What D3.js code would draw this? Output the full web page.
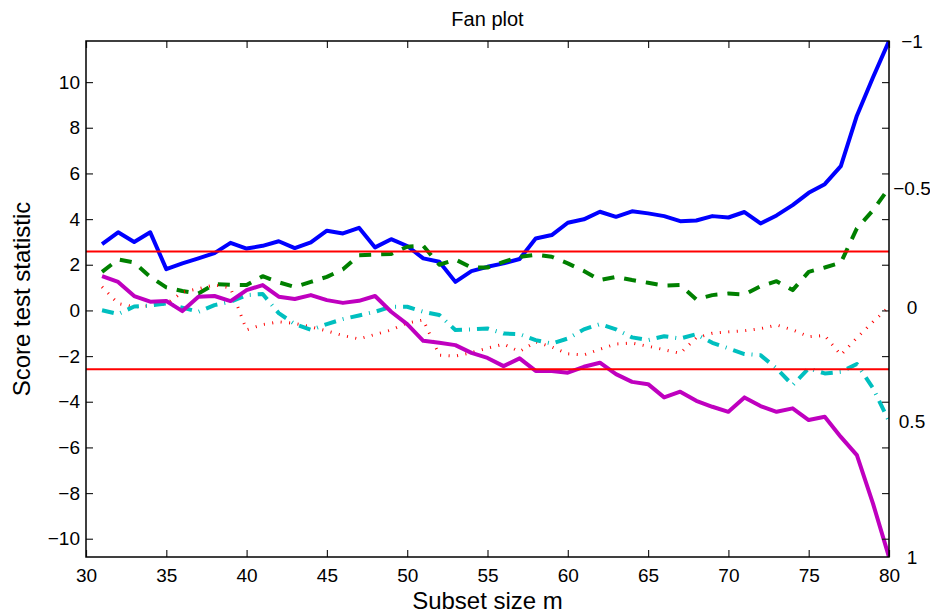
<!DOCTYPE html>
<html>
<head>
<meta charset="utf-8">
<script src="https://cdn.jsdelivr.net/npm/d3@7"></script>
<style>
  html, body { margin: 0; padding: 0; background: #fff; }
  svg { display: block; }
  text { font-family: "Liberation Sans", Arial, Helvetica, sans-serif; fill: #000; }
</style>
</head>
<body>
<svg id="chart" width="930" height="613"></svg>
<script>
// ---- data ----
const subsetSize = [31,32,33,34,35,36,37,38,39,40,41,42,43,44,45,46,47,48,49,50,
                    51,52,53,54,55,56,57,58,59,60,61,62,63,64,65,66,67,68,69,70,
                    71,72,73,74,75,76,77,78,79,80];
const lambdas = ["−1", "−0.5", "0", "0.5", "1"];
const scoreLambdaM1 = [2.90,3.42,3.00,3.42,1.81,2.06,2.28,2.51,2.96,2.71,
                       2.83,3.03,2.73,2.98,3.49,3.37,3.62,2.76,3.12,2.82,
                       2.28,2.13,1.25,1.72,1.91,2.06,2.25,3.15,3.30,3.84,
                       3.99,4.32,4.10,4.34,4.25,4.13,3.91,3.94,4.13,4.07,
                       4.31,3.81,4.16,4.61,5.15,5.53,6.32,8.53,10.2,11.8];
const scoreLambdaM05 = [1.69,2.23,2.10,1.47,1.01,0.85,0.74,1.15,1.12,1.11,
                        1.50,1.23,1.03,1.25,1.47,1.80,2.42,2.45,2.47,2.79,
                        2.83,2.00,2.23,1.88,1.88,2.13,2.35,2.44,2.35,2.06,
                        1.73,1.33,1.47,1.33,1.21,1.09,1.11,0.48,0.67,0.74,
                        0.70,1.06,1.28,0.89,1.69,1.88,2.09,3.59,4.38,5.36];
const scoreLambda0 = [1.03,0.30,0.15,0.20,0.28,0.80,0.95,1.12,0.98,-0.85,
                      -0.62,-0.50,-0.57,-0.72,-0.90,-1.10,-1.25,-1.05,-0.86,-0.55,
                      -0.42,-1.96,-2.00,-1.85,-1.65,-1.48,-1.80,-1.38,-1.60,-1.90,
                      -1.95,-1.70,-1.47,-1.43,-1.57,-1.72,-1.88,-1.20,-1.00,-0.94,
                      -0.89,-0.80,-0.64,-0.85,-1.15,-1.10,-1.95,-1.20,-0.50,0.15];
const scoreLambda05 = [0.01,-0.16,0.17,0.22,0.30,0.12,-0.06,0.23,0.38,0.67,
                       0.72,-0.12,-0.60,-0.85,-0.60,-0.38,-0.22,-0.06,0.16,0.16,
                       -0.06,-0.20,-0.86,-0.83,-0.79,-1.01,-1.04,-1.30,-1.45,-1.23,
                       -0.83,-0.60,-0.83,-1.18,-1.30,-1.13,-1.23,-1.04,-1.42,-1.66,
                       -1.91,-1.96,-2.54,-3.27,-2.54,-2.76,-2.69,-2.35,-3.40,-4.85];
const scoreLambda1 = [1.50,1.25,0.63,0.38,0.41,-0.03,0.60,0.63,0.41,0.89,
                      1.11,0.60,0.50,0.67,0.45,0.33,0.42,0.63,-0.06,-0.60,
                      -1.33,-1.42,-1.52,-1.86,-2.08,-2.44,-2.10,-2.65,-2.65,-2.73,
                      -2.47,-2.29,-2.79,-3.13,-3.23,-3.81,-3.56,-3.96,-4.22,-4.44,
                      -3.81,-4.19,-4.44,-4.29,-4.80,-4.66,-5.54,-6.34,-8.45,-10.8];
const confidenceBand = [2.576, -2.576];
const xTicks = [30,35,40,45,50,55,60,65,70,75,80];
const yTicks = [-10,-8,-6,-4,-2,0,2,4,6,8,10];

// ---- layout ----
const svg = d3.select("#chart");
const L = 86, R = 889, T = 41, B = 557;
const x = d3.scaleLinear().domain([30, 80]).range([L, R]);
const y = d3.scaleLinear().domain([-10.8, 11.8]).range([B, T]);

const seriesList = [
  { values: scoreLambdaM1,  color: "#0000ff", width: 4, dash: null },
  { values: scoreLambdaM05, color: "#008000", width: 4, dash: "12,10" },
  { values: scoreLambda0,   color: "#ff0000", width: 3, dash: "1,7.5" },
  { values: scoreLambda05,  color: "#00bfbf", width: 4, dash: "12,7,1,7" },
  { values: scoreLambda1,   color: "#bf00bf", width: 4, dash: null }
];

svg.append("defs").append("clipPath").attr("id", "plotclip")
  .append("rect").attr("x", L).attr("y", T).attr("width", R - L).attr("height", B - T);

const plot = svg.append("g").attr("clip-path", "url(#plotclip)");
const line = d3.line().x((d, i) => x(subsetSize[i])).y(d => y(d));

seriesList.forEach(s => {
  plot.append("path")
    .datum(s.values)
    .attr("d", line)
    .attr("fill", "none")
    .attr("stroke", s.color)
    .attr("stroke-width", s.width)
    .attr("stroke-linejoin", "round")
    .attr("stroke-dasharray", s.dash);
});

plot.selectAll("line.band").data(confidenceBand).enter().append("line")
  .attr("class", "band")
  .attr("x1", L).attr("x2", R)
  .attr("y1", d => y(d)).attr("y2", d => y(d))
  .attr("stroke", "#ff0000").attr("stroke-width", 2);

// ---- axes ----
const fontSize = 19;
const gx = svg.append("g").attr("transform", `translate(0,${B})`)
  .call(d3.axisBottom(x).tickValues(xTicks).tickSize(-7).tickPadding(12).tickFormat(d3.format("d")));
const gxt = svg.append("g").attr("transform", `translate(0,${T})`)
  .call(d3.axisTop(x).tickValues(xTicks).tickSize(-7).tickFormat(""));
const gy = svg.append("g").attr("transform", `translate(${L},0)`)
  .call(d3.axisLeft(y).tickValues(yTicks).tickSize(-7).tickPadding(6)
    .tickFormat(d => (d < 0 ? "−" + Math.abs(d) : String(d))));
const gyr = svg.append("g").attr("transform", `translate(${R},0)`)
  .call(d3.axisRight(y).tickValues(yTicks).tickSize(-7).tickFormat(""));

[gx, gxt, gy, gyr].forEach(g => {
  g.select(".domain").remove();
  g.selectAll(".tick line").attr("stroke", "#222").attr("stroke-width", 1.2);
  g.selectAll(".tick text")
    .style("font-family", '"Liberation Sans", Arial, Helvetica, sans-serif')
    .style("font-size", fontSize + "px").attr("fill", "#000");
});

svg.append("rect").attr("x", L).attr("y", T).attr("width", R - L).attr("height", B - T)
  .attr("fill", "none").attr("stroke", "#000").attr("stroke-width", 1.5);

// lambda labels at line ends
svg.selectAll("text.lam").data(seriesList).enter().append("text")
  .attr("class", "lam")
  .attr("x", 912)
  .attr("y", s => y(s.values[s.values.length - 1]))
  .attr("dy", "0.35em")
  .attr("text-anchor", "middle")
  .style("font-size", fontSize + "px")
  .text((s, i) => lambdas[i]);

// titles
svg.append("text").attr("x", (L + R) / 2).attr("y", 26).attr("text-anchor", "middle")
  .style("font-size", "20px").text("Fan plot");
svg.append("text").attr("x", (L + R) / 2).attr("y", 609).attr("text-anchor", "middle")
  .style("font-size", "24px").text("Subset size m");
svg.append("text").attr("transform", `translate(30,${(T + B) / 2}) rotate(-90)`)
  .attr("text-anchor", "middle")
  .style("font-size", "24px").text("Score test statistic");
</script>
</body>
</html>
